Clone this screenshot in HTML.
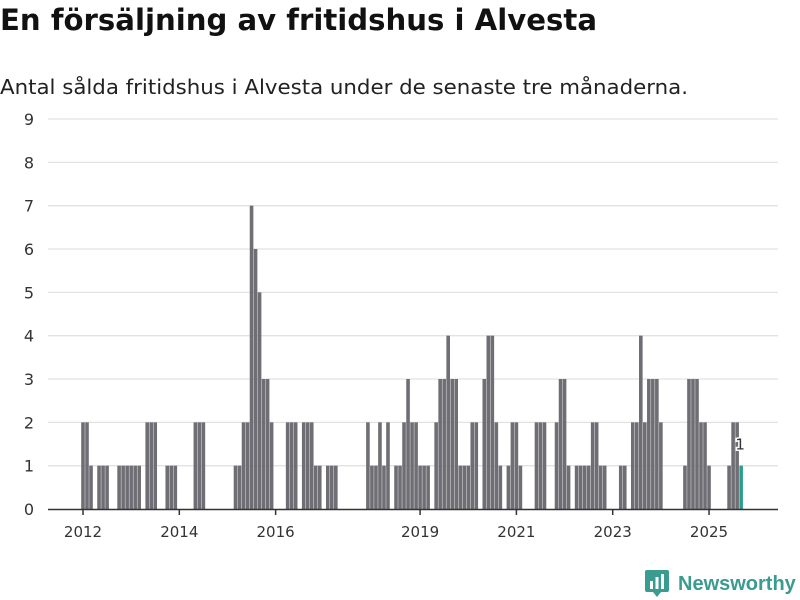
<!DOCTYPE html>
<html><head><meta charset="utf-8">
<style>
body{margin:0;width:800px;height:600px;background:#fff;font-family:"DejaVu Sans","Liberation Sans",sans-serif;overflow:hidden;position:relative}
#title{position:absolute;left:0;top:3px;font-size:29px;font-weight:bold;color:#111;white-space:nowrap;transform-origin:0 0;display:inline-block}
#sub{position:absolute;left:0;top:75px;font-size:20px;color:#222;white-space:nowrap;transform-origin:0 0;display:inline-block}
svg{position:absolute;left:0;top:0}
#logo{position:absolute;left:645px;top:570px;display:flex;align-items:center}
#logo span{font-size:20px;font-weight:bold;color:#3a9b8f;margin-left:9px;font-family:"Liberation Sans",sans-serif}
</style></head><body>
<div id="title">En försäljning av fritidshus i Alvesta</div>
<div id="sub">Antal sålda fritidshus i Alvesta under de senaste tre månaderna.</div>
<svg id="chart" width="800" height="600"></svg>
<div id="logo">
<svg width="24" height="28" style="position:static"><path d="M0 2 Q0 0 2 0 H22 Q24 0 24 2 V20 Q24 22 22 22 H16 L12 27 L8 22 H2 Q0 22 0 20Z" fill="#3a9b8f"/><rect x="5" y="11" width="3" height="8" fill="#fff"/><rect x="10.5" y="7" width="3" height="12" fill="#fff"/><rect x="16" y="4" width="3" height="15" fill="#fff"/></svg>
<span>Newsworthy</span></div>
<script>
const startYear = 2012;
const yTicks = [0,1,2,3,4,5,6,7,8,9];
const xTickYears = [2012,2014,2016,2019,2021,2023,2025];
const valueMap = {0:2,1:2,2:1,4:1,5:1,6:1,9:1,10:1,11:1,12:1,13:1,14:1,16:2,17:2,18:2,21:1,22:1,23:1,28:2,29:2,30:2,38:1,39:1,40:2,41:2,42:7,43:6,44:5,45:3,46:3,47:2,51:2,52:2,53:2,55:2,56:2,57:2,58:1,59:1,61:1,62:1,63:1,71:2,72:1,73:1,74:2,75:1,76:2,78:1,79:1,80:2,81:3,82:2,83:2,84:1,85:1,86:1,88:2,89:3,90:3,91:4,92:3,93:3,94:1,95:1,96:1,97:2,98:2,100:3,101:4,102:4,103:2,104:1,106:1,107:2,108:2,109:1,113:2,114:2,115:2,118:2,119:3,120:3,121:1,123:1,124:1,125:1,126:1,127:2,128:2,129:1,130:1,134:1,135:1,137:2,138:2,139:4,140:2,141:3,142:3,143:3,144:2,150:1,151:3,152:3,153:3,154:2,155:2,156:1,161:1,162:2,163:2,164:1};
const monthCount = 165;
const values = [];
for (let i = 0; i < monthCount; i++) values.push(valueMap[i] || 0);

function fitWidth(id, target){const e=document.getElementById(id);const w=e.getBoundingClientRect().width;if(w>0)e.style.transform='scaleX('+(target/w)+')';}
fitWidth('title', 597);
fitWidth('sub', 688);

const svg = document.getElementById('chart');
const NS = 'http://www.w3.org/2000/svg';
const x0 = 83, pitch = 4.013, yBase = 509, yUnit = 43.33;
const X = i => x0 + i * pitch;
const Y = v => yBase - v * yUnit;
function mk(tag, attrs){const e=document.createElementNS(NS,tag);for(const k in attrs)e.setAttribute(k,attrs[k]);svg.appendChild(e);return e;}
const FF = 'DejaVu Sans, Liberation Sans, sans-serif';

yTicks.forEach(t => {
  if (t > 0) {
    const g = mk('line',{x1:48,x2:778,y1:Y(t),y2:Y(t),stroke:'#e2e2e2','stroke-width':1.3});
    
    
  }
  const l = mk('text',{x:34,y:Y(t)+6,'text-anchor':'end','font-size':16,fill:'#333','font-family':FF});
  l.textContent = t;
  
  
});

values.forEach((v, i) => {
  if (!v) return;
  const last = i === values.length - 1;
  const r = mk('rect',{x:X(i)-1.8,y:Y(v),width:3.6,height:v*yUnit,fill:last?'#2a9d8f':'#6e6e74'});
  
  
  if (last) {
    const t = mk('text',{x:X(i)-1,y:Y(v)-16,'text-anchor':'middle','font-size':15,fill:'#333',stroke:'#fff','stroke-width':3,'paint-order':'stroke','font-family':FF});
    t.textContent = v;
    
    
  }
});

const ax = mk('line',{x1:48,x2:778,y1:yBase+0.5,y2:yBase+0.5,stroke:'#333','stroke-width':1.5});



xTickYears.forEach(yr => {
  const xp = X((yr - startYear) * 12);
  const tk = mk('line',{x1:xp,x2:xp,y1:yBase,y2:yBase+6,stroke:'#333','stroke-width':1.5});
  
  
  const l = mk('text',{x:xp,y:537,'text-anchor':'middle','font-size':15,fill:'#333','font-family':FF});
  l.textContent = yr;
  
  
});
</script>
</body></html>
